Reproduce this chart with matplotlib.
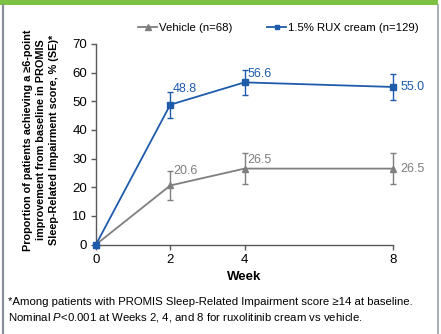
import matplotlib
matplotlib.use("Agg")
import matplotlib.pyplot as plt
from matplotlib import font_manager
from matplotlib.patches import Rectangle
from matplotlib.lines import Line2D

names = {f.name for f in font_manager.fontManager.ttflist}
base = 'Liberation Sans Narrow' if 'Liberation Sans Narrow' in names else 'Liberation Sans'
plt.rcParams['font.family'] = [base, 'DejaVu Sans']
plt.rcParams['mathtext.fontset'] = 'custom'
plt.rcParams['mathtext.it'] = base + ':italic'
plt.rcParams['mathtext.rm'] = base

weeks = [0, 2, 4, 8]
vehicle = [0, 20.6, 26.5, 26.5]
vehicle_se = [0, 4.9, 5.3, 5.3]
rux = [0, 48.8, 56.6, 55.0]
rux_se = [0, 4.5, 4.4, 4.4]
labels_vehicle = ["", "20.6", "26.5", "26.5"]
labels_rux = ["", "48.8", "56.6", "55.0"]
series_names = ["Vehicle (n=68)", "1.5% RUX cream (n=129)"]
yticks = [0, 10, 20, 30, 40, 50, 60, 70]

BLUE = '#1f5bab'
GRAY = '#7f7f7f'

fig = plt.figure(figsize=(4.41, 3.34), dpi=100)
fig.patch.set_facecolor('white')
# frame decorations
fig.add_artist(Rectangle((0, 1 - 5/334), 438/441, 5/334, transform=fig.transFigure,
                         color='#7dc242', lw=0))
fig.add_artist(Line2D([3/441, 3/441], [0, 1 - 5/334], transform=fig.transFigure,
                      color='#8a9099', lw=1.6))
fig.add_artist(Line2D([437.5/441, 437.5/441], [0, 1 - 5/334], transform=fig.transFigure,
                      color='#9aa0a8', lw=1.2))

ax = fig.add_axes([96/441, 89.5/334, 297/441, 200.5/334])
ax.set_xlim(0, 8)
ax.set_ylim(0, 70)
for s in ['top', 'right']:
    ax.spines[s].set_visible(False)
for s in ['left', 'bottom']:
    ax.spines[s].set_color('#595959')
    ax.spines[s].set_linewidth(1.0)
ax.set_xticks(weeks)
ax.set_yticks(yticks)
ax.tick_params(axis='both', length=3.5, width=1.0, color='#595959', labelsize=9.5, pad=3)

ax.errorbar(weeks, vehicle, yerr=vehicle_se, color=GRAY, lw=1.3, marker='^', ms=5,
            capsize=2.5, elinewidth=1.0, capthick=1.0, clip_on=False, zorder=3)
ax.errorbar(weeks, rux, yerr=rux_se, color=BLUE, lw=1.3, marker='s', ms=4.5,
            capsize=2.5, elinewidth=1.0, capthick=1.0, clip_on=False, zorder=4)

# label offsets in pixels (dx, dy) from the data point
offs_v = [(0, 0), (3, 14), (3, 9), (7.5, 0)]
offs_r = [(0, 0), (2.5, 16), (3, 8), (7.5, 0)]
px = 72 / 100
for i, w in enumerate(weeks):
    if labels_vehicle[i]:
        ax.annotate(labels_vehicle[i], (w, vehicle[i]),
                    xytext=(offs_v[i][0] * px, offs_v[i][1] * px),
                    textcoords='offset points', color=GRAY, fontsize=9,
                    ha='left', va='center', annotation_clip=False)
    if labels_rux[i]:
        ax.annotate(labels_rux[i], (w, rux[i]),
                    xytext=(offs_r[i][0] * px, offs_r[i][1] * px),
                    textcoords='offset points', color=BLUE, fontsize=9,
                    ha='left', va='center', annotation_clip=False)

ax.set_xlabel('Week', fontsize=9.5, fontweight='bold', labelpad=4)
ax.set_ylabel('Proportion of patients achieving a \u22656-point\nimprovement from baseline in PROMIS\nSleep-Related Impairment score, % (SE)*',
              fontsize=7.8, fontweight='bold', linespacing=1.4, va='center', ha='center')
ax.yaxis.set_label_coords((41 - 96) / 297, (244.5 - 140) / 200.5)

handles = [Line2D([], [], color=GRAY, lw=1.3, marker='^', ms=4),
           Line2D([], [], color=BLUE, lw=1.3, marker='s', ms=3.5)]
fig.legend(handles, series_names, loc='center left', bbox_to_anchor=(138/441, 1 - 28/334),
           ncol=2, frameon=False, borderpad=0, borderaxespad=0,
           fontsize=8.2, handlelength=1.67, columnspacing=3.1, handletextpad=0.15)

fig.text(8/441, 1 - 302/334, '*Among patients with PROMIS Sleep-Related Impairment score \u226514 at baseline.',
         fontsize=8.2, va='center', ha='left')
fig.text(8/441, 1 - 317.5/334, r'Nominal $P$<0.001 at Weeks 2, 4, and 8 for ruxolitinib cream vs vehicle.',
         fontsize=8.2, va='center', ha='left')

fig.savefig('out.png', dpi=100, facecolor='white')
